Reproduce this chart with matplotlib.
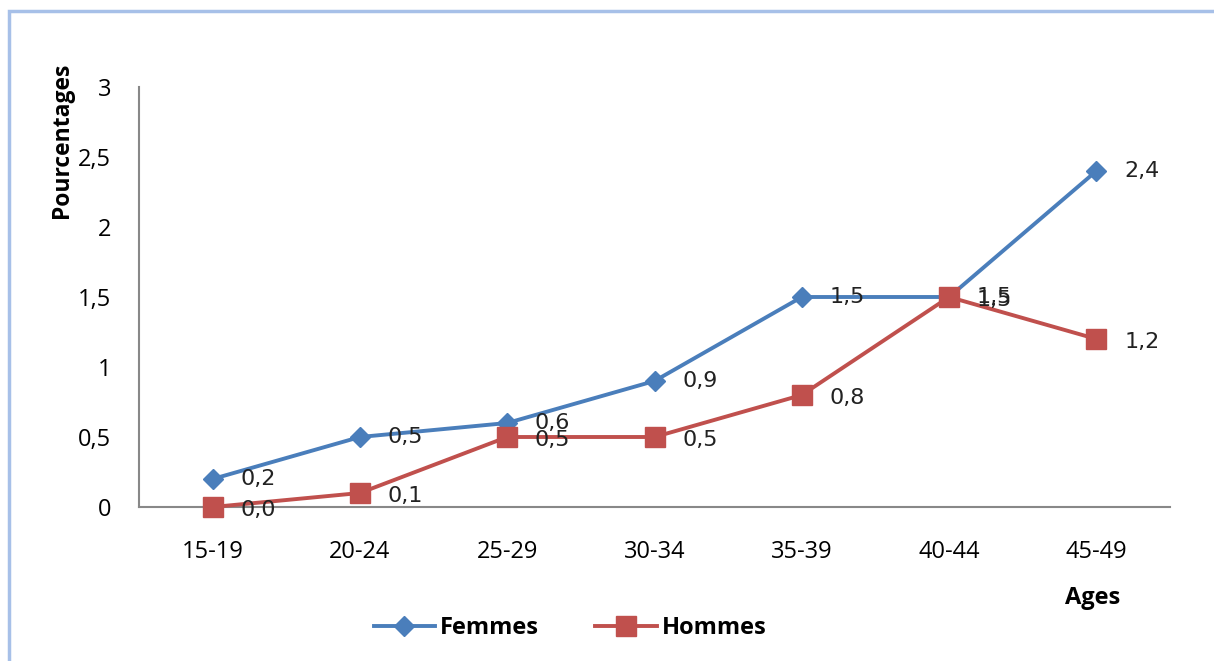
import numpy as np
import matplotlib
matplotlib.use('Agg')
import matplotlib.pyplot as plt
from matplotlib.patches import Rectangle

ages = ['15-19', '20-24', '25-29', '30-34', '35-39', '40-44', '45-49']
femmes = [0.2, 0.5, 0.6, 0.9, 1.5, 1.5, 2.4]
hommes = [0.0, 0.1, 0.5, 0.5, 0.8, 1.5, 1.2]
yticks = [0, 0.5, 1, 1.5, 2, 2.5, 3]
ytick_labels = ['0', '0,5', '1', '1,5', '2', '2,5', '3']

plt.rcParams['font.family'] = ['Open Sans', 'DejaVu Sans']

fig = plt.figure(figsize=(12.14, 6.61), dpi=100)
ax = fig.add_axes([139/1214, 1-507/661, (1170-139)/1214, (507-87)/661])

# cadre bleu autour du graphique
fig.patches.append(Rectangle((9/1214, -0.05), 1.2, 1-11/661+0.05,
                             transform=fig.transFigure, fill=False,
                             edgecolor='#a7c0e8', linewidth=2.5))

x = np.arange(len(ages))
blue = '#4a7ebb'
red = '#c0504d'
ax.plot(x, femmes, color=blue, linewidth=2.8, marker='D', markersize=10.5,
        label='Femmes', clip_on=False, zorder=3)
ax.plot(x, hommes, color=red, linewidth=2.8, marker='s', markersize=15,
        label='Hommes', clip_on=False, zorder=3)

for xi, v in zip(x, femmes):
    ax.annotate(('%.1f' % v).replace('.', ','), (xi, v), xytext=(20, 0),
                textcoords='offset points', ha='left', va='center',
                fontsize=16, family='DejaVu Sans', color='#222222', zorder=4)
for xi, v in zip(x, hommes):
    ax.annotate(('%.1f' % v).replace('.', ','), (xi, v), xytext=(20, -2),
                textcoords='offset points', ha='left', va='center',
                fontsize=16, family='DejaVu Sans', color='#222222', zorder=4)

ax.set_xlim(-0.5, 6.5)
ax.set_ylim(0, 3)
ax.set_xticks(x)
ax.set_xticklabels(ages, fontsize=17)
ax.set_yticks(yticks)
ax.set_yticklabels(ytick_labels, fontsize=17)
ax.tick_params(length=0)
ax.tick_params(axis='y', pad=20)
ax.tick_params(axis='x', pad=24)
for s in ['top', 'right']:
    ax.spines[s].set_visible(False)
for s in ['left', 'bottom']:
    ax.spines[s].set_color('#888888')
    ax.spines[s].set_linewidth(1.5)

fig.text(62/1214, 1-140/661, 'Pourcentages', rotation=90, ha='center', va='center',
         fontsize=16.5, fontweight='bold')
fig.text(1093/1214, 1-598/661, 'Ages', ha='center', va='center',
         fontsize=17, fontweight='bold')

fig.legend(loc='center', bbox_to_anchor=(570/1214, 1-628/661), ncol=2, frameon=False,
           prop={'weight': 'bold', 'size': 17}, handlelength=2.6,
           handletextpad=0.2, columnspacing=2.4)

fig.savefig('out.png', dpi=100)
